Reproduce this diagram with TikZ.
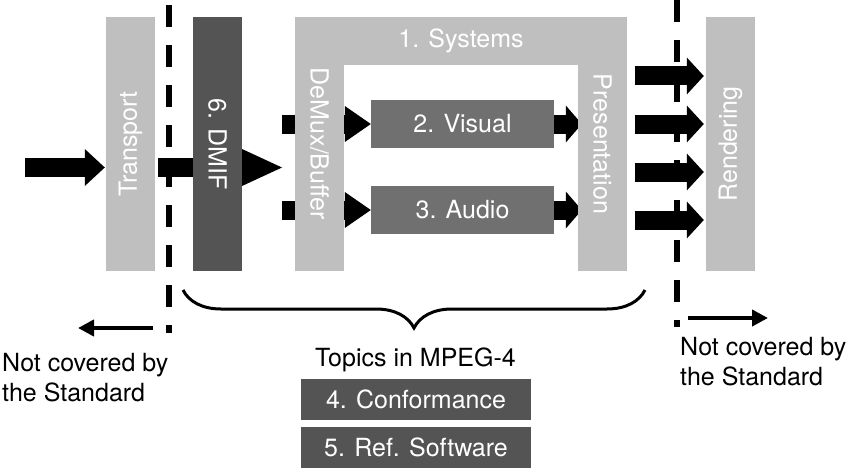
\documentclass[tikz,border=0pt]{standalone}
\usepackage{fontspec}
\setmainfont{TeX Gyre Heros}
\usetikzlibrary{arrows.meta,decorations.pathreplacing,backgrounds}
\definecolor{lightbar}{gray}{0.75}
\definecolor{darkbox}{gray}{0.33}
\definecolor{midbox}{gray}{0.44}

\begin{document}
\begin{tikzpicture}[x=1pt,y=-1pt,
  txt/.style={font={\fontsize{25}{29.5}\selectfont},inner sep=0pt},
  bar/.style={fill=lightbar,minimum width=49pt,minimum height=254pt,inner sep=0pt},
  dbar/.style={bar,fill=darkbox},
  blk/.style={txt,fill=midbox,text=white,minimum width=183pt,minimum height=48pt},
  tbox/.style={txt,fill=darkbox,text=white,minimum width=230pt,minimum height=41pt},
  vlab/.style={txt,text=white},
  fat/.style={line width=19pt},
  cut/.style={line width=6pt,dash pattern=on 22pt off 18pt},
  side/.style={line width=4pt,-{Triangle[length=16pt,width=16pt]}}]
  \useasboundingbox (0,0) rectangle (850,468);
  % the blocks of the chain, left to right
  \node[bar] (transport) at (130.5,144) {};
  \node[dbar] (dmif) at (217.5,144) {};
  \node[bar] (demux) at (319.5,144) {};
  \node[bar] (pres) at (602.5,144) {};
  \node[bar] (rend) at (730.5,144) {};
  \node[bar,txt,text=white,minimum width=332pt,minimum height=48pt] (sys) at (461,41) {1. Systems};
  \node[blk] (visual) at (462.5,124) {2. Visual};
  \node[blk] (audio) at (462.5,210) {3. Audio};
  \node[vlab,rotate=90] at (transport) {Transport};
  \node[vlab,rotate=-90] at (dmif) {6. DMIF};
  \node[vlab,rotate=-90] at (demux) {DeMux/Buffer};
  \node[vlab,rotate=-90] at (pres) {Presentation};
  \node[vlab,rotate=90] at (rend) {Rendering};
  % block arrows, partly hidden behind the bars
  \coordinate (in) at (25,167.5);
  \coordinate (dmifout) at (282,167.5);
  \begin{pgfonlayer}{background}
    \draw[fat,-{Triangle[length=20pt,width=37pt,line width=0pt]}] (in) -- ([xshift=-1pt]in -| transport.west);
    \draw[fat,-{Triangle[length=40pt,width=37pt,line width=0pt]}] ([xshift=3pt]transport.east |- in) -- (dmifout);
    \foreach \b in {visual,audio} {
      \draw[fat,-{Triangle[length=26pt,width=36pt,line width=0pt]}] ([xshift=-13pt]demux.west |- \b.west) -- (\b.west);
      \draw[fat,-{Triangle[length=16pt,width=37pt,line width=0pt]}] (\b.east) -- ([xshift=4pt]pres.west |- \b.east);
    }
  \end{pgfonlayer}
  \foreach \y [count=\k] in {76,124,172,220} {
    \coordinate (o\k) at (635,\y);
    \draw[fat,-{Triangle[length=17pt,width=37pt,line width=0pt]}] (o\k) -- ([xshift=-2pt]o\k -| rend.west);
  }
  % borders of the standard
  \coordinate (c1) at (169,0); \coordinate (c2) at (169,333);
  \coordinate (c3) at (677,0); \coordinate (c4) at (677,327);
  \draw[cut,dash phase=35pt] (c1) -- (c2);
  \draw[cut] (c3) -- (c4);
  \coordinate (ll1) at (153,328); \coordinate (ll2) at (78,328);
  \coordinate (rr1) at (688,318); \coordinate (rr2) at (768,318);
  \draw[side] (ll1) -- (ll2);
  \draw[side] (rr1) -- (rr2);
  % brace and the topics below it
  \coordinate (bl) at (183,290); \coordinate (br) at (645,290);
  \draw[line width=3pt,decorate,decoration={brace,mirror,amplitude=38pt}] (bl) -- (br);
  \node[txt,anchor=base west,align=left] (nl) at (2,401) {Not covered by\\the Standard};
  \node[txt,anchor=base west,align=left] (nr) at (680,385) {Not covered by\\the Standard};
  \node[txt,anchor=base] (topics) at (415.5,366) {Topics in MPEG-4};
  \node[tbox] (conf) at (416,399.5) {4. Conformance};
  \node[tbox] (refsw) at (416,447.5) {5. Ref. Software};
\end{tikzpicture}
\end{document}
